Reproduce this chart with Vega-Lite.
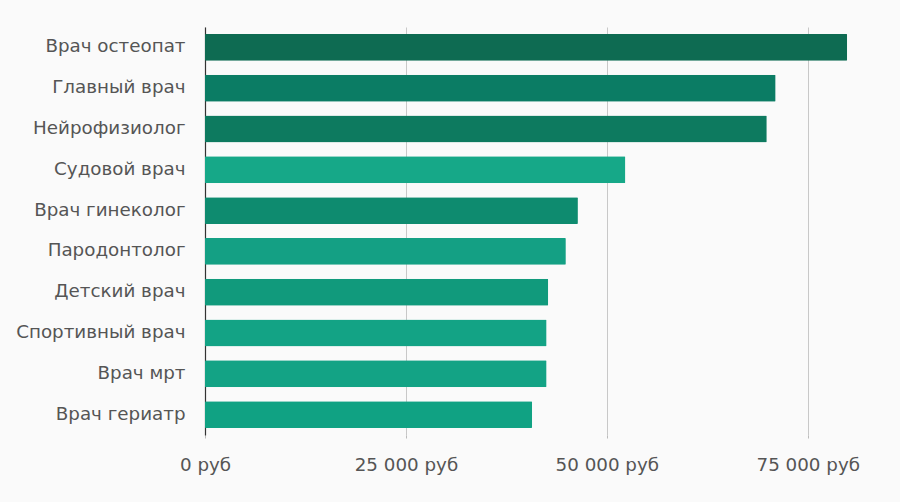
{
  "$schema": "https://vega.github.io/schema/vega-lite/v6.json",
  "width": 659,
  "height": 408,
  "autosize": {"type": "none"},
  "padding": {"left": 205, "top": 27, "right": 36, "bottom": 67},
  "background": "#fafafa",
  "config": {
    "view": {"stroke": null},
    "font": "DejaVu Sans"
  },
  "data": {
    "values": [
      {"profession": "Врач остеопат", "salary": 79900},
      {"profession": "Главный врач", "salary": 71000},
      {"profession": "Нейрофизиолог", "salary": 69900},
      {"profession": "Судовой врач", "salary": 52300},
      {"profession": "Врач гинеколог", "salary": 46400},
      {"profession": "Пародонтолог", "salary": 44900},
      {"profession": "Детский врач", "salary": 42700},
      {"profession": "Спортивный врач", "salary": 42500},
      {"profession": "Врач мрт", "salary": 42500},
      {"profession": "Врач гериатр", "salary": 40700}
    ]
  },
  "mark": {"type": "bar", "cornerRadius": 1},
  "encoding": {
    "y": {
      "field": "profession",
      "type": "nominal",
      "sort": null,
      "scale": {"paddingInner": 0.34, "paddingOuter": 0.17},
      "axis": {
        "title": null,
        "labelFontSize": 18.3,
        "labelFont": "DejaVu Sans",
        "labelColor": "#555555",
        "labelPadding": 20,
        "ticks": false,
        "domainColor": "#333333",
        "domainWidth": 1.2,
        "grid": false
      }
    },
    "x": {
      "field": "salary",
      "type": "quantitative",
      "scale": {"domain": [0, 82000], "nice": false},
      "axis": {
        "title": null,
        "values": [0, 25000, 50000, 75000],
        "labelExpr": "datum.value == 0 ? '0 руб' : format(datum.value / 1000, 'd') + ' 000 руб'",
        "labelFontSize": 18.3,
        "labelFont": "DejaVu Sans",
        "labelColor": "#555555",
        "labelPadding": 18,
        "labelFlush": false,
        "domain": false,
        "ticks": true,
        "tickSize": 3,
        "tickColor": "#bbbbbb",
        "grid": true,
        "gridColor": "#c8c8c8",
        "gridWidth": 1
      }
    },
    "color": {
      "field": "profession",
      "type": "nominal",
      "legend": null,
      "scale": {
        "domain": ["Врач остеопат", "Главный врач", "Нейрофизиолог", "Судовой врач", "Врач гинеколог", "Пародонтолог", "Детский врач", "Спортивный врач", "Врач мрт", "Врач гериатр"],
        "range": ["#0e6b52", "#0b7c64", "#0d7a5f", "#16a888", "#0e8b6f", "#14a084", "#119a7c", "#13a385", "#13a385", "#10a283"]
      }
    }
  }
}
